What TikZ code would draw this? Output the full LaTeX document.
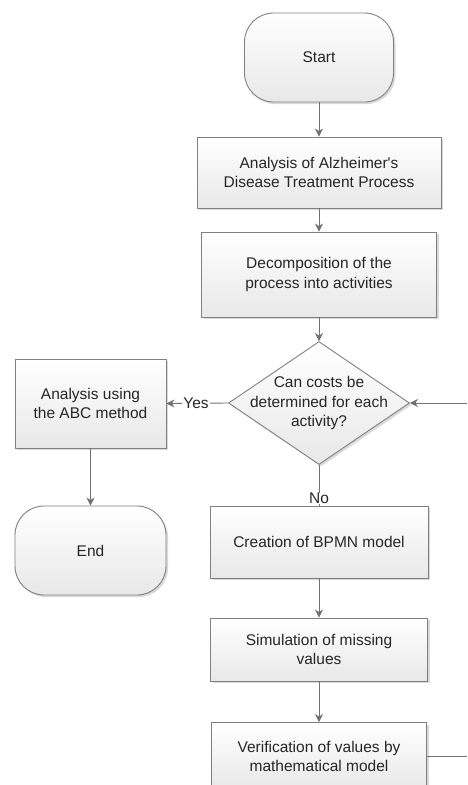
\documentclass[tikz,border=0pt]{standalone}
\usepackage{fontspec}
\setmainfont{Liberation Sans}
\usetikzlibrary{shapes.geometric,arrows.meta,shadows}
\definecolor{linegray}{HTML}{707070}
\definecolor{bordergray}{HTML}{808080}
\definecolor{txtgray}{HTML}{262626}
\newcommand{\flowfont}{\fontsize{15.5}{19.5}\selectfont}
\begin{document}
\begin{tikzpicture}[x=1pt,y=1pt,
  base/.style={draw=bordergray, line width=0.9pt, top color=white, bottom color=black!9,
    drop shadow={shadow xshift=2pt, shadow yshift=-2pt, opacity=0.15, fill=black},
    text=txtgray, font=\flowfont, align=center, inner sep=0pt},
  proc/.style={base, rectangle},
  term/.style={base, rectangle, rounded corners=29pt},
  dec/.style={base, diamond},
  conn/.style={draw=linegray, line width=0.9pt},
  arr/.style={conn, -{Stealth[length=8pt,width=8pt,inset=2.5pt]}},
  lbl/.style={fill=white, text=txtgray, font=\flowfont, inner sep=1pt}
]
\useasboundingbox (0,0) rectangle (467,-785);
\clip (0,0) rectangle (467,-785);

\node[term, minimum width=149, minimum height=89] (start) at (319,-57.5) {Start};
\node[proc, minimum width=244, minimum height=71] (analysis) at (319,-172.5) {Analysis of Alzheimer\textquotesingle s\\Disease Treatment Process};
\node[proc, minimum width=235, minimum height=85] (decomp) at (319,-274.5) {Decomposition of the\\process into activities};
\node[dec, minimum width=181, minimum height=123] (cond) at (319,-403) {};
\node[text=txtgray, font=\flowfont, align=center, inner sep=0pt] (condtext) at (cond.center) {Can costs be\\determined for each\\activity?};
\node[proc, minimum width=151, minimum height=89] (abc) at (90.5,-403.5) {Analysis using\\the ABC method};
\node[term, minimum width=151, minimum height=89] (end) at (90.5,-550.5) {End};
\node[proc, minimum width=218, minimum height=72] (bpmn) at (319,-542) {Creation of BPMN model};
\node[proc, minimum width=217, minimum height=63] (sim) at (319,-649.5) {Simulation of missing\\values};
\node[proc, minimum width=215, minimum height=68] (verif) at (319,-756.5) {Verification of values by\\mathematical model};

\coordinate (rin) at (467,-403);
\coordinate (rout) at (467,-756.5);

\draw[arr] (start) -- (analysis);
\draw[arr] (analysis) -- (decomp);
\draw[arr] (decomp) -- (cond);
\draw[arr] (cond.west) -- node[lbl, pos=0.52] (yes) {Yes} (abc.east);
\draw[conn] (cond.south) -- (bpmn.north);
\node[lbl, anchor=south, inner sep=0.5pt] (no) at ([yshift=1pt]bpmn.north) {No};
\draw[arr] (abc) -- (end);
\draw[arr] (bpmn) -- (sim);
\draw[arr] (sim) -- (verif);
\draw[arr] (rin) -- (cond.east);
\draw[conn] (verif.east) -- (rout);
\end{tikzpicture}
\end{document}
